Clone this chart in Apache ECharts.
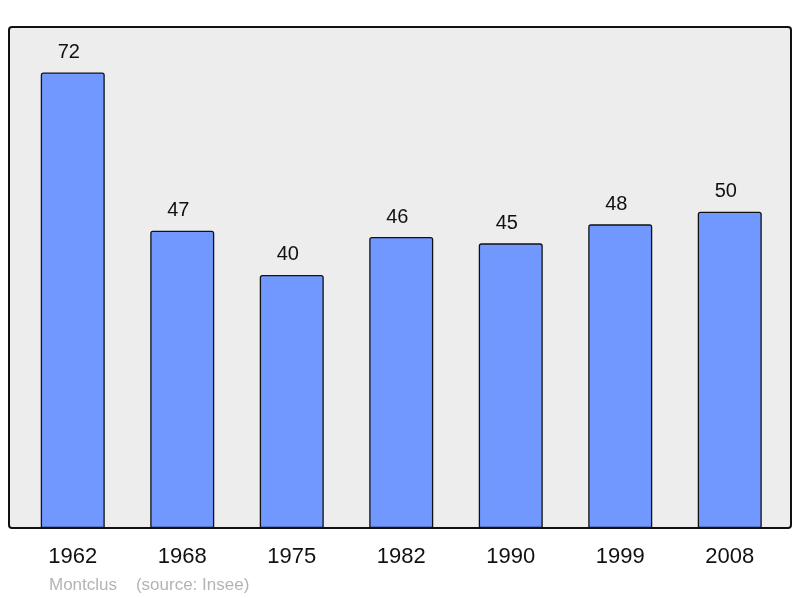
<!DOCTYPE html>
<html>
<head>
<meta charset="utf-8">
<script src="https://cdn.jsdelivr.net/npm/echarts@6/dist/echarts.min.js"></script>
<style>
  html, body { margin: 0; padding: 0; background: #fff; }
  #chart { width: 800px; height: 598px; }
</style>
</head>
<body>
<div id="chart"></div>
<script>
// données population
const years = ['1962', '1968', '1975', '1982', '1990', '1999', '2008']
const population = [72, 47, 40, 46, 45, 48, 50]
const footerText = 'Montclus    (source: Insee)'

const chart = echarts.init(document.getElementById('chart'))

const options = {
  animation: false,
  textStyle: { fontFamily: 'Liberation Sans, Arial, sans-serif' },
  graphic: [
    {
      type: 'rect',
      z: -10,
      shape: { x: 9, y: 27, width: 782, height: 501, r: 3 },
      style: { fill: '#ededed', stroke: '#111', lineWidth: 2 },
    },
    {
      type: 'text',
      left: 49,
      top: 577,
      style: {
        text: footerText,
        fill: '#b4b4b4',
        font: '17px Liberation Sans, Arial, sans-serif',
      },
    },
  ],
  grid: {
    left: 18,
    right: 15.5,
    top: 27,
    bottom: 70,
  },
  xAxis: {
    type: 'category',
    data: years,
    axisLine: { show: false },
    axisTick: { show: false },
    axisLabel: {
      color: '#111',
      fontSize: 22,
      margin: 18,
    },
  },
  yAxis: {
    type: 'value',
    min: 0,
    max: 79.2,
    show: false,
    splitLine: { show: false },
  },
  series: [
    {
      type: 'bar',
      data: population,
      barWidth: 64,
      itemStyle: {
        color: '#7098ff',
        borderColor: '#111',
        borderWidth: 1.3,
        borderRadius: [2, 2, 0, 0],
      },
      label: {
        show: true,
        position: 'top',
        distance: 10,
        offset: [-4, 0],
        color: '#111',
        fontSize: 20,
      },
    },
  ],
}

chart.setOption(options)
</script>
</body>
</html>
